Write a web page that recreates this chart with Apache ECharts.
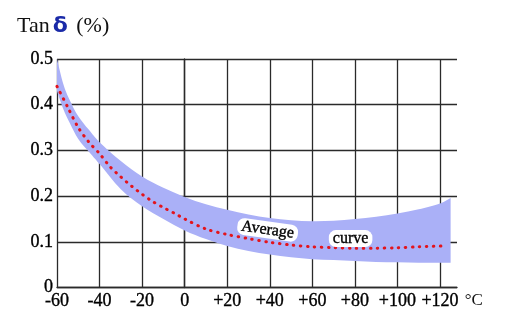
<!DOCTYPE html>
<html>
<head>
<meta charset="utf-8">
<script src="https://cdn.jsdelivr.net/npm/echarts@6/dist/echarts.min.js"></script>
<style>
  html, body { margin: 0; padding: 0; background: #fff; }
  #chart { width: 512px; height: 330px; }
</style>
</head>
<body>
<div id="chart"></div>
<script>
// Temperature (°C) sample points
const temps      = [-60, -57, -54, -50, -45, -40, -30, -20, -10, 0, 10, 20, 30, 40, 50, 60, 70, 80, 90, 100, 110, 120, 125];
// Upper and lower limits of the tan δ spread (%)
const bandUpper  = [0.50, 0.445, 0.41, 0.375, 0.345, 0.318, 0.277, 0.243, 0.218, 0.198, 0.182, 0.170, 0.160, 0.152, 0.147, 0.145, 0.146, 0.150, 0.155, 0.162, 0.171, 0.184, 0.196];
const bandLower  = [0.43, 0.39, 0.36, 0.325, 0.297, 0.27, 0.215, 0.178, 0.150, 0.125, 0.106, 0.091, 0.080, 0.072, 0.066, 0.062, 0.060, 0.058, 0.056, 0.055, 0.054, 0.054, 0.054];
// Average curve
const avgTemps   = [-60, -55, -50, -45, -40, -35, -30, -25, -20, -15, -10, -5, 0, 10, 20, 30, 40, 50, 60, 70, 80, 90, 100, 110, 123];
const avgValues  = [0.44, 0.395, 0.35, 0.318, 0.293, 0.264, 0.242, 0.222, 0.204, 0.188, 0.175, 0.163, 0.150, 0.128, 0.116, 0.107, 0.099, 0.093, 0.089, 0.087, 0.086, 0.086, 0.087, 0.089, 0.091];
// Axis ticks
const xTicks = [-60, -40, -20, 0, 20, 40, 60, 80, 100, 120];
const yTicks = [0, 0.1, 0.2, 0.3, 0.4, 0.5];

const serif = '"Liberation Serif", "DejaVu Serif", serif';
const inkText = { fontFamily: serif, color: '#000', textBorderColor: '#000', textBorderWidth: 0.35 };

// Catmull-Rom style cubic segments through pixel points
function curvePath(pts, startCmd) {
  let d = startCmd + pts[0][0] + ' ' + pts[0][1];
  for (let i = 0; i < pts.length - 1; i++) {
    const p0 = pts[Math.max(i - 1, 0)], p1 = pts[i], p2 = pts[i + 1], p3 = pts[Math.min(i + 2, pts.length - 1)];
    const c1 = [p1[0] + (p2[0] - p0[0]) / 6, p1[1] + (p2[1] - p0[1]) / 6];
    const c2 = [p2[0] - (p3[0] - p1[0]) / 6, p2[1] - (p3[1] - p1[1]) / 6];
    d += ' C' + c1[0] + ' ' + c1[1] + ' ' + c2[0] + ' ' + c2[1] + ' ' + p2[0] + ' ' + p2[1];
  }
  return d;
}

const bandData = temps.map((t, i) => [t, bandLower[i], bandUpper[i]]);
const avgPts   = avgTemps.map((t, i) => [t, avgValues[i]]);

const chart = echarts.init(document.getElementById('chart'), null, { renderer: 'canvas' });

chart.setOption({
  animation: false,
  backgroundColor: '#fff',
  title: {
    left: 12, top: 10,
    text: '{t|Tan}{d|δ}{t| (%)}',
    textStyle: {
      rich: {
        t: { fontFamily: serif, fontWeight: 'normal', fontSize: 22, color: '#111' },
        d: { fontFamily: '"DejaVu Sans", sans-serif', fontWeight: 'bold', fontSize: 22, color: '#1a2aa8', padding: [0, 3, 0, 3] }
      }
    }
  },
  grid: { left: 57, top: 59, right: 55, bottom: 42.5 },
  xAxis: {
    type: 'value',
    min: -60, max: 128, interval: 20,
    name: '°C',
    nameLocation: 'end',
    nameGap: 7,
    nameTextStyle: { fontFamily: serif, fontSize: 17, color: '#111', verticalAlign: 'top', padding: [5, 0, 0, 0] },
    axisLine: { show: true, lineStyle: { color: '#2a2a2a', width: 1.4 } },
    axisTick: { show: false },
    axisLabel: Object.assign({
      margin: 5, fontSize: 18,
      showMaxLabel: false,
      formatter: v => xTicks.includes(v) ? (v > 0 ? '+' + v : String(v)) : ''
    }, inkText),
    splitLine: { show: true, showMaxLine: false, lineStyle: { color: '#2a2a2a', width: 1.3 } }
  },
  yAxis: {
    type: 'value',
    min: 0, max: 0.5, interval: 0.1,
    axisLine: { show: true, lineStyle: { color: '#2a2a2a', width: 1.4 } },
    axisTick: { show: false },
    axisLabel: Object.assign({
      margin: 4, fontSize: 18,
      formatter: v => yTicks.includes(+v.toFixed(1)) ? String(+v.toFixed(1)) : ''
    }, inkText),
    splitLine: { show: true, lineStyle: { color: '#2a2a2a', width: 1.3 } }
  },
  series: [
    {
      name: 'spread', type: 'custom', coordinateSystem: 'cartesian2d',
      data: bandData, encode: { x: 0, y: [1, 2] }, z: 2, silent: true,
      renderItem: (params, api) => {
        if (params.dataIndex !== 0) return;
        const up = bandData.map(r => api.coord([r[0], r[2]]));
        const lo = bandData.map(r => api.coord([r[0], r[1]])).reverse();
        const d = curvePath(up, 'M') + ' ' + curvePath(lo, 'L') + ' Z';
        return { type: 'path', shape: { pathData: d }, style: { fill: '#aab0f7' } };
      }
    },
    {
      name: 'average', type: 'line', data: avgPts,
      symbol: 'none', smooth: 0.3, z: 3,
      lineStyle: { color: '#e3141c', width: 3, type: [0.5, 6.5], cap: 'round' },
      markPoint: {
        symbol: 'circle', symbolSize: 0,
        label: Object.assign({
          show: true, position: 'inside',
          formatter: p => p.name,
          fontSize: 16,
          backgroundColor: '#fff', borderRadius: 7, padding: [1, 4, 0, 4]
        }, inkText),
        data: [
          { name: 'Average', coord: [39, 0.126], label: { rotate: -8 } },
          { name: 'curve', coord: [78, 0.107] }
        ]
      }
    }
  ]
});
</script>
</body>
</html>
